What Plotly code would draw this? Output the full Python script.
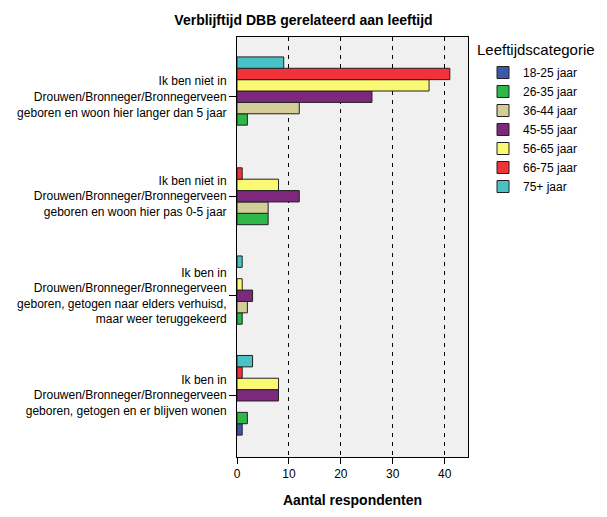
import plotly.graph_objects as go

categories = [
    "Ik ben niet in<br>Drouwen/Bronneger/Bronnegerveen<br>geboren en woon hier langer dan 5 jaar",
    "Ik ben niet in<br>Drouwen/Bronneger/Bronnegerveen<br>geboren en woon hier pas 0-5 jaar",
    "Ik ben in<br>Drouwen/Bronneger/Bronnegerveen<br>geboren, getogen naar elders verhuisd,<br>maar weer teruggekeerd",
    "Ik ben in<br>Drouwen/Bronneger/Bronnegerveen<br>geboren, getogen en er blijven wonen",
]
age_groups = ["18-25 jaar", "26-35 jaar", "36-44 jaar", "45-55 jaar", "56-65 jaar", "66-75 jaar", "75+ jaar"]
v_18_25 = [0, 0, 0, 1]
v_26_35 = [2, 6, 1, 2]
v_36_44 = [12, 6, 2, 0]
v_45_55 = [26, 12, 3, 8]
v_56_65 = [37, 8, 1, 8]
v_66_75 = [41, 1, 0, 1]
v_75plus = [9, 0, 1, 3]
series = [v_18_25, v_26_35, v_36_44, v_45_55, v_56_65, v_66_75, v_75plus]
colors = ["#3E58AC", "#2EB848", "#D3CE97", "#7C287D", "#FBF873", "#EF3338", "#48C2C5"]
x_ticks = [0, 10, 20, 30, 40]

FONT = "Arial, Liberation Sans, sans-serif"
L, R, T, B = 237, 139, 37, 54
PW, PH = 607 - L - R, 517 - T - B

fig = go.Figure()
for name, vals, col in zip(age_groups, series, colors):
    fig.add_trace(go.Bar(
        y=categories, x=[v if v else None for v in vals], name=name, orientation="h",
        marker=dict(color=col, line=dict(color="#222222", width=1)),
    ))

fig.update_layout(
    width=607, height=517,
    margin=dict(l=L, r=R, t=T, b=B),
    paper_bgcolor="white", plot_bgcolor="#F0F0F0",
    barmode="group", bargap=0.2, bargroupgap=0,
    font=dict(family=FONT, size=12, color="black"),
    title=dict(text="<b>Verblijftijd DBB gerelateerd aan leeftijd</b>",
               x=0.5, xref="container", xanchor="center",
               y=1 - 20 / 517, yref="container", yanchor="middle",
               font=dict(family=FONT, size=14, color="black")),
    showlegend=True,
    legend=dict(traceorder="normal", xref="container", yref="container",
                x=483 / 607, xanchor="left", y=1 - 58 / 517, yanchor="top",
                font=dict(family=FONT, size=12, color="black"),
                bgcolor="rgba(0,0,0,0)", itemwidth=30),
    annotations=[dict(text="Leeftijdscategorie", xref="paper", yref="paper",
                      x=(475 - L) / PW, y=1 - (50 - T) / PH, xanchor="left", yanchor="middle",
                      showarrow=False, font=dict(family=FONT, size=15, color="black"))],
)
fig.update_xaxes(
    range=[0, 44.5], tickvals=x_ticks, ticks="outside", ticklen=6, tickcolor="black",
    showline=True, linecolor="black", linewidth=1, mirror=True,
    showgrid=True, gridcolor="black", griddash="4px,5px", gridwidth=1,
    zeroline=False,
    title=dict(text="<b>Aantal respondenten</b>", font=dict(family=FONT, size=14), standoff=14),
    tickfont=dict(family=FONT, size=12),
)
fig.update_yaxes(
    type="category", categoryorder="array", categoryarray=categories[::-1],
    range=[-0.62, 3.6], ticks="outside", ticklen=7, tickcolor="black",
    showline=True, linecolor="black", linewidth=1, mirror=True,
    showgrid=False, zeroline=False, tickfont=dict(family=FONT, size=12),
)
fig.write_html("out.html", config={"displayModeBar": False},
               post_script="document.body.style.margin='0';")
